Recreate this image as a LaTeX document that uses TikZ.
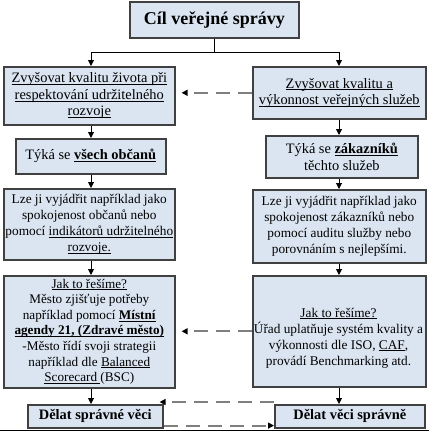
\documentclass[tikz,border=0pt]{standalone}
\usepackage{fontspec}
\setmainfont{Liberation Serif}
\usetikzlibrary{arrows.meta}
\definecolor{boxfill}{HTML}{DBE5F1}
\definecolor{boxline}{HTML}{404040}
\definecolor{dashgray}{HTML}{7F7F7F}
\newcommand{\myul}[1]{\setbox0\hbox{#1}\rlap{\rule[-2pt]{\wd0}{0.75pt}}\box0}
\tikzset{
  box/.style={draw=boxline, line width=1.6pt, fill=boxfill, inner sep=0pt,
    align=center, anchor=north west, text=black},
  bigtext/.style={font=\fontsize{14.4}{16.3}\selectfont},
  smalltext/.style={font=\fontsize{13.3}{16}\selectfont},
  conn/.style={draw=black, line width=1pt},
  arr/.style={conn, -{Triangle[length=6pt,width=6pt]}},
  dasharr/.style={draw=dashgray, line width=1.8pt, dash pattern=on 14pt off 8pt,
    -{Triangle[length=6pt,width=6pt,color=black]}},
}
\begin{document}
\begin{tikzpicture}[x=1pt,y=-1pt]
\useasboundingbox (0,0) rectangle (429,431);
\coordinate (hl) at (0,52);
\coordinate (colL) at (91,0);
\coordinate (colR) at (339,0);

\node[box, minimum width=169pt, minimum height=36pt, font=\fontsize{18}{20}\selectfont\bfseries] (T) at (129,1) {Cíl veřejné správy};

\node[box, bigtext, minimum width=171pt, minimum height=58pt] (L1) at (3,66)
  {\myul{Zvyšovat kvalitu života při}\\\myul{respektování udržitelného}\\\myul{rozvoje}};
\node[box, bigtext, minimum width=173pt, minimum height=52pt] (R1) at (252,66)
  {\myul{Zvyšovat kvalitu a}\\\myul{výkonnost veřejných služeb}};

\node[box, bigtext, minimum width=150pt, minimum height=35pt] (L2) at (15,138)
  {Týká se \myul{\textbf{všech občanů}}};
\node[box, bigtext, minimum width=152pt, minimum height=42pt] (R2) at (265,135)
  {Týká se \myul{\textbf{zákazníků}}\\těchto služeb};

\node[box, smalltext, minimum width=171pt, minimum height=71pt] (L3) at (3,188)
  {Lze ji vyjádřit například jako\\spokojenost občanů nebo\\pomocí \myul{indikátorů udržitelného}\\\myul{rozvoje.}};
\node[box, smalltext, minimum width=173pt, minimum height=73pt] (R3) at (252,189)
  {Lze ji vyjádřit například jako\\spokojenost zákazníků nebo\\pomocí auditu služby nebo\\porovnáním s nejlepšími.};

\node[box, minimum width=171pt, minimum height=112pt, font=\fontsize{13.2}{15.6}\selectfont] (L4) at (3,275)
  {\myul{Jak to řešíme?}\\Město zjišťuje potřeby\\například pomocí \myul{\textbf{Místní}}\\\myul{\textbf{agendy 21, (Zdravé město)}}\\-Město řídí svoji strategii\\například dle \myul{Balanced}\\\myul{Scorecard }(BSC)};
\node[box, minimum width=173pt, minimum height=111pt] (R4) at (252,275) {};
\node[smalltext, align=center, inner sep=0pt] (R4t) at (338.5,338)
  {\myul{Jak to řešíme?}\\Úřad uplatňuje systém kvality a\\výkonnosti dle ISO, \myul{CAF},\\provádí Benchmarking atd.};

\node[box, minimum width=135pt, minimum height=23pt, font=\fontsize{14.4}{16.5}\selectfont\bfseries] (BL) at (27,404) {Dělat správné věci};
\node[box, minimum width=150pt, minimum height=23pt, font=\fontsize{14.4}{16.5}\selectfont\bfseries] (BR) at (274,404) {Dělat věci správně};

% top connector
\draw[conn] (T.south) -- (T.south |- hl);
\draw[conn] (colL |- hl) -- (colR |- hl);
\draw[arr] (colL |- hl) -- (colL |- L1.north);
\draw[arr] (colR |- hl) -- (colR |- R1.north);

% left column
\draw[arr] (colL |- L1.south) -- (colL |- L2.north);
\draw[arr] (colL |- L2.south) -- (colL |- L3.north);
\draw[arr] (colL |- L3.south) -- (colL |- L4.north);
\draw[arr] (colL |- L4.south) -- (colL |- BL.north);

% right column
\draw[arr] (colR |- R1.south) -- (colR |- R2.north);
\draw[arr] (colR |- R2.south) -- (colR |- R3.north);
\draw[arr] (colR |- R3.south) -- (colR |- R4.north);
\draw[arr] (colR |- R4.south) -- (colR |- BR.north);

% dashed cross arrows
\draw[dasharr, shorten >=6pt] (R1.west) -- (L1.east |- R1.west);
\draw[dasharr, shorten >=6pt] (R4.west) -- (L4.east |- R4.west);
\draw[dasharr] ([yshift=2pt]BR.north west) -- ([yshift=2pt,xshift=-4pt]BL.north east);
\draw[dasharr] ([yshift=3pt]BL.south east) -- ([yshift=3pt]BR.south west);

% bottom rule
\draw[line width=1pt] (0,430) -- (429,430);
\end{tikzpicture}
\end{document}
